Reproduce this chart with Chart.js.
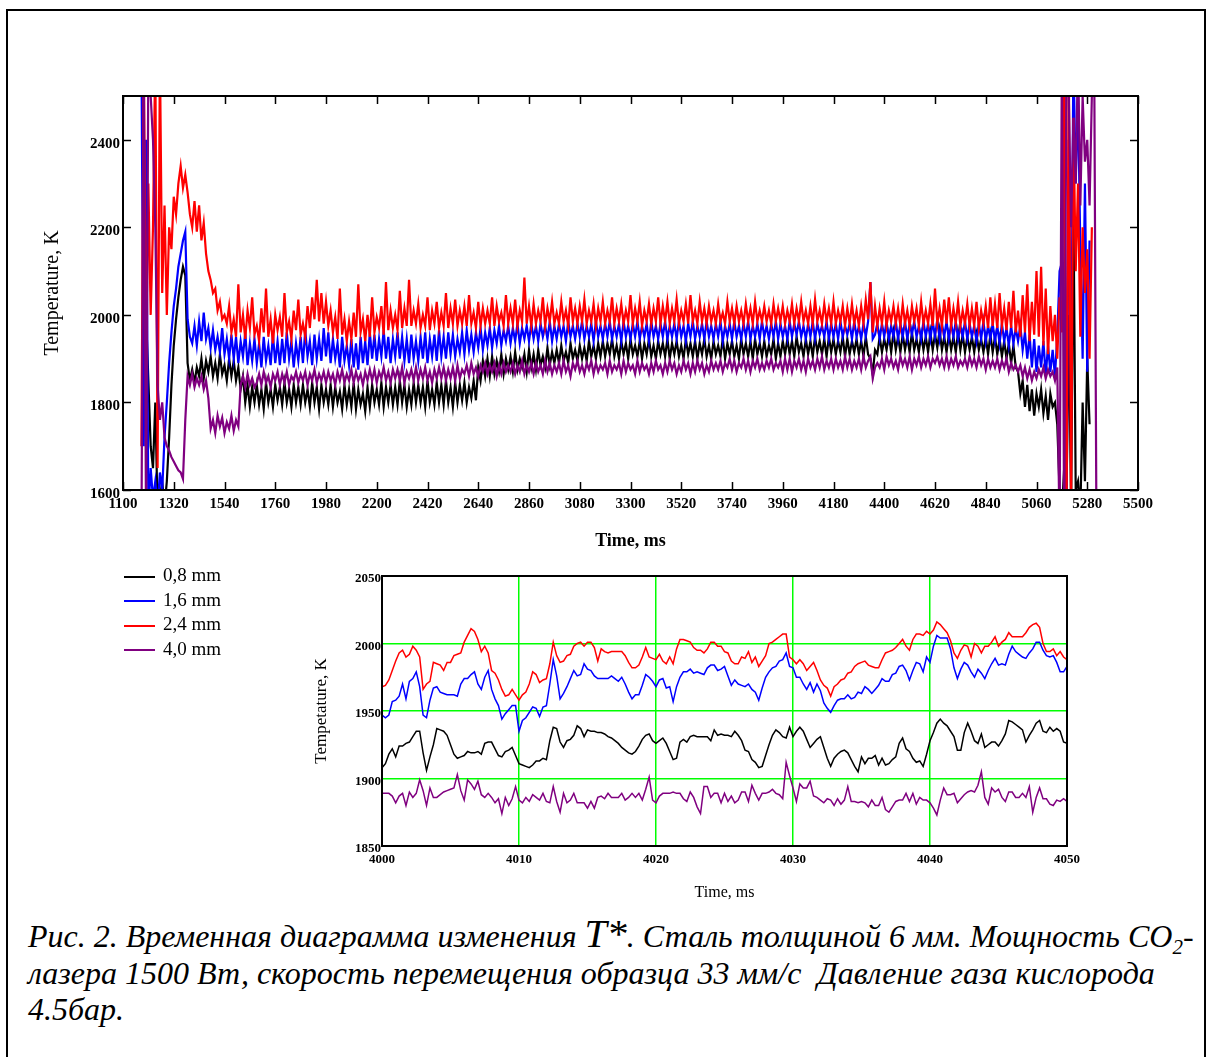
<!DOCTYPE html>
<html>
<head>
<meta charset="utf-8">
<script src="https://cdn.jsdelivr.net/npm/chart.js@4.4.1/dist/chart.umd.min.js"></script>
<style>
  body { margin: 0; background: #fff; width: 1210px; height: 1057px; overflow: hidden; position: relative; font-family: "Liberation Serif", "Times New Roman", serif; }
  #frame { position: absolute; left: 6px; top: 9px; width: 1196px; height: 1070px; border: 2px solid #000; }
  #mainChart { position: absolute; left: 0; top: 0; }
  #insetChart { position: absolute; left: 300px; top: 560px; }
  #legend { position: absolute; left: 124px; top: 563px; font-size: 19px; }
  #legend div { height: 24.5px; line-height: 24.5px; white-space: nowrap; }
  #legend span.sw { display: inline-block; width: 31px; height: 2px; vertical-align: middle; margin-right: 8px; }
  #caption { position: absolute; left: 28px; top: 918px; font-family: "Liberation Serif"; font-size: 32px; font-style: italic; line-height: 36.5px; white-space: nowrap; }
  #caption .big { font-size: 40px; line-height: 10px; }
  #caption sub { font-size: 21px; line-height: 10px; }
</style>
</head>
<body>
<div id="frame"></div>
<canvas id="mainChart" width="1210" height="580"></canvas>
<canvas id="insetChart" width="800" height="350"></canvas>
<div id="legend"></div>
<div id="caption">Рис. 2. Временная диаграмма изменения <span class="big">T*</span>. Сталь толщиной 6 мм. Мощность CO<sub>2</sub>-<br>лазера 1500 Вт, скорость перемещения образца 33 мм/с&nbsp; Давление газа кислорода<br>4.5бар.</div>
<script>
// series names and colours
const seriesNames = ['0,8 mm', '1,6 mm', '2,4 mm', '4,0 mm'];
const seriesColors = ['#000000', '#0000ff', '#ff0000', '#800080'];

// main chart: samples every 10 ms starting at 1180 ms
const mainStartMs = 1180;
const mainStepMs = 10;
const mainXTicks = [1100, 1320, 1540, 1760, 1980, 2200, 2420, 2640, 2860, 3080, 3300, 3520, 3740, 3960, 4180, 4400, 4620, 4840, 5060, 5280, 5500];
const mainYTicks = [1600, 1800, 2000, 2200, 2400];

const mainBlack = [
  2600, 2400, 2000, 1850, 1700, 1650, 1800, 1550, 1580, 1620,
  1560, 1620, 1720, 1840, 1930, 1990, 2040, 2080, 2110, 2090,
  1890, 1850, 1875, 1845, 1880, 1860, 1900, 1855, 1895, 1870,
  1905, 1860, 1890, 1855, 1910, 1865, 1885, 1850, 1900, 1860,
  1895, 1850, 1880, 1830, 1860, 1800, 1840, 1790, 1835, 1800,
  1840, 1795, 1830, 1785, 1845, 1800, 1830, 1790, 1840, 1805,
  1835, 1795, 1845, 1800, 1830, 1790, 1840, 1800, 1835, 1795,
  1840, 1800, 1830, 1790, 1845, 1800, 1835, 1785, 1840, 1800,
  1830, 1795, 1840, 1790, 1835, 1800, 1825, 1785, 1840, 1795,
  1830, 1790, 1845, 1785, 1830, 1795, 1820, 1780, 1835, 1790,
  1840, 1800, 1830, 1795, 1845, 1790, 1835, 1800, 1840, 1795,
  1835, 1795, 1850, 1800, 1840, 1790, 1830, 1795, 1845, 1800,
  1840, 1800, 1835, 1790, 1850, 1800, 1830, 1795, 1845, 1800,
  1840, 1795, 1850, 1800, 1835, 1790, 1845, 1800, 1840, 1805,
  1845, 1800, 1835, 1810, 1850, 1805, 1880, 1850, 1895, 1860,
  1900, 1860, 1905, 1865, 1895, 1870, 1910, 1865, 1900, 1875,
  1905, 1870, 1915, 1875, 1900, 1880, 1910, 1870, 1920, 1880,
  1910, 1875, 1920, 1885, 1905, 1880, 1925, 1885, 1915, 1890,
  1920, 1890, 1930, 1895, 1915, 1890, 1935, 1900, 1920, 1895,
  1930, 1900, 1925, 1895, 1940, 1905, 1930, 1900, 1935, 1905,
  1940, 1905, 1935, 1910, 1945, 1905, 1930, 1900, 1940, 1910,
  1935, 1900, 1945, 1910, 1930, 1905, 1940, 1900, 1935, 1910,
  1945, 1905, 1930, 1900, 1940, 1910, 1935, 1905, 1945, 1900,
  1935, 1910, 1940, 1905, 1930, 1900, 1945, 1910, 1935, 1905,
  1940, 1900, 1935, 1910, 1945, 1905, 1930, 1900, 1940, 1910,
  1930, 1905, 1945, 1900, 1935, 1910, 1940, 1905, 1930, 1900,
  1945, 1910, 1935, 1905, 1940, 1900, 1945, 1910, 1935, 1905,
  1940, 1905, 1930, 1910, 1945, 1900, 1935, 1905, 1940, 1910,
  1945, 1910, 1940, 1905, 1950, 1915, 1935, 1905, 1945, 1910,
  1940, 1905, 1950, 1915, 1940, 1910, 1945, 1905, 1950, 1915,
  1945, 1910, 1940, 1915, 1950, 1905, 1945, 1910, 1940, 1915,
  1945, 1910, 1940, 1905, 1950, 1910, 1900, 1865, 1920, 1910,
  1950, 1915, 1945, 1920, 1955, 1915, 1960, 1920, 1950, 1915,
  1955, 1920, 1950, 1915, 1960, 1920, 1945, 1915, 1955, 1920,
  1950, 1915, 1960, 1920, 1955, 1925, 1965, 1920, 1950, 1915,
  1955, 1920, 1950, 1915, 1960, 1920, 1955, 1915, 1950, 1920,
  1950, 1915, 1955, 1920, 1945, 1915, 1950, 1910, 1955, 1915,
  1950, 1910, 1945, 1905, 1940, 1900, 1935, 1890, 1930, 1880,
  1870, 1820, 1850, 1790, 1840, 1780, 1830, 1770, 1820, 1790,
  1830, 1775, 1815, 1760, 1820, 1790, 1800, 1750, 1600, 1550,
  1650, 1580, 2000, 1550, 2260, 1600, 1620, 1550, 1800, 1620,
  1900, 1750, null, null, null
];

const mainBlue = [
  2600, 1700, 2400, 1550, 1650, 1580, 1620, 1560, 1640, 1600,
  1720, 1800, 1890, 1960, 2020, 2060, 2110, 2140, 2170, 2190,
  1990, 1950, 1935, 1975, 1930, 1985, 1940, 2005, 1945, 1970,
  1925, 1965, 1920, 1950, 1915, 1970, 1910, 1945, 1900, 1955,
  1900, 1950, 1890, 1940, 1905, 1960, 1885, 1935, 1895, 1945,
  1890, 1935, 1880, 1950, 1895, 1930, 1885, 1955, 1890, 1940,
  1885, 1945, 1890, 1960, 1900, 1940, 1880, 1935, 1895, 1950,
  1890, 1965, 1905, 1940, 1885, 1955, 1900, 1945, 1895, 1970,
  1905, 1960, 1890, 1945, 1900, 1935, 1880, 1950, 1895, 1930,
  1885, 1945, 1880, 1935, 1875, 1950, 1890, 1940, 1885, 1960,
  1900, 1955, 1895, 1945, 1905, 1965, 1900, 1950, 1890, 1945,
  1905, 1960, 1900, 1950, 1895, 1945, 1890, 1955, 1900, 1940,
  1895, 1950, 1900, 1960, 1890, 1945, 1905, 1955, 1895, 1965,
  1905, 1950, 1900, 1960, 1910, 1955, 1905, 1945, 1915, 1960,
  1910, 1965, 1920, 1955, 1915, 1960, 1925, 1970, 1920, 1960,
  1930, 1970, 1925, 1965, 1935, 1975, 1930, 1965, 1940, 1975,
  1935, 1970, 1940, 1980, 1935, 1970, 1945, 1975, 1940, 1980,
  1945, 1975, 1940, 1980, 1950, 1975, 1945, 1985, 1940, 1975,
  1945, 1980, 1950, 1975, 1940, 1985, 1950, 1975, 1945, 1980,
  1950, 1985, 1945, 1975, 1950, 1980, 1940, 1985, 1950, 1975,
  1945, 1980, 1950, 1985, 1945, 1975, 1950, 1980, 1940, 1985,
  1950, 1975, 1945, 1980, 1950, 1985, 1945, 1975, 1950, 1980,
  1940, 1985, 1950, 1975, 1945, 1980, 1950, 1985, 1945, 1975,
  1950, 1980, 1945, 1985, 1950, 1975, 1940, 1980, 1950, 1985,
  1945, 1975, 1950, 1980, 1945, 1985, 1950, 1975, 1945, 1980,
  1950, 1985, 1940, 1975, 1950, 1980, 1945, 1985, 1950, 1975,
  1945, 1980, 1950, 1985, 1945, 1975, 1950, 1980, 1945, 1985,
  1950, 1975, 1945, 1980, 1950, 1985, 1945, 1980, 1950, 1975,
  1945, 1985, 1950, 1980, 1955, 1985, 1950, 1975, 1945, 1980,
  1950, 1985, 1945, 1980, 1955, 1975, 1950, 1985, 1945, 1980,
  1950, 1980, 1945, 1985, 1950, 1975, 1955, 1980, 1945, 1985,
  1950, 1975, 1945, 1980, 1950, 1985, 2075, 1945, 1955, 1980,
  1945, 1980, 1950, 1985, 1945, 1975, 1950, 1985, 1945, 1980,
  1950, 1985, 1945, 1980, 1955, 1985, 1950, 1975, 1945, 1985,
  1950, 1980, 1945, 1985, 1950, 1990, 1945, 1980, 1950, 1985,
  1945, 1980, 1950, 1985, 1945, 1975, 1950, 1985, 1945, 1980,
  1950, 1975, 1940, 1980, 1945, 1985, 1940, 1975, 1945, 1980,
  1940, 1975, 1935, 1980, 1940, 1970, 1930, 1975, 1935, 1970,
  1940, 1975, 1920, 1960, 1900, 1955, 1880, 1945, 1870, 1930,
  1880, 1940, 1860, 1930, 1870, 1920, 1860, 1950, 2100, 2120,
  2600, 1500, 2400, 1800, 2600, 2300, 2500, 2150, 1900, 2300,
  1870, 2170, null, null, null
];

const mainRed = [
  1700, 2600, 1900, 2300, 2000, 2200, 2600, 1650, 2600, 2050,
  2250, 2000, 2200, 2150, 2270, 2230, 2300, 2340, 2290, 2320,
  2280, 2230, 2200, 2260, 2190, 2250, 2170, 2210, 2140, 2100,
  2080, 2050, 2060, 2010, 2030, 1990, 2000, 1980, 2020, 1960,
  1990, 1950, 2070, 1960, 2000, 1945, 2010, 1970, 2040, 1955,
  1975, 1940, 2015, 1960, 2060, 1950, 1990, 1935, 2000, 1965,
  1995, 1950, 2050, 1960, 1985, 1945, 2010, 1965, 2035, 1955,
  1980, 1950, 2020, 1970, 2040, 1990, 2080, 1985, 2050, 1980,
  2030, 1975, 2010, 1960, 1995, 1945, 2060, 1955, 1990, 1940,
  1985, 1945, 2005, 1950, 2070, 1960, 1990, 1940, 2000, 1950,
  2040, 1960, 1995, 1970, 2020, 1955, 2075, 1965, 2010, 1970,
  2000, 1965, 2055, 1970, 2015, 1975, 2080, 1975, 2010, 1980,
  2025, 1970, 2000, 1975, 2040, 1965, 2010, 1980, 2030, 1970,
  2005, 1975, 2050, 1970, 2015, 1980, 2035, 1975, 2010, 1980,
  2020, 1975, 2045, 1980, 2005, 1970, 2030, 1975, 2015, 1980,
  2010, 1980, 2040, 1975, 2020, 1985, 2005, 1975, 2045, 1980,
  2015, 1980, 2035, 1975, 2010, 1985, 2085, 1980, 2020, 1975,
  2025, 1980, 2010, 1985, 2040, 1975, 2015, 1985, 2030, 1980,
  2005, 1980, 2030, 1985, 2010, 1975, 2040, 1985, 2015, 1980,
  2020, 1985, 2035, 1980, 2010, 1985, 2025, 1975, 2015, 1985,
  2030, 1980, 2010, 1985, 2040, 1980, 2015, 1985, 2025, 1980,
  2010, 1985, 2045, 1980, 2015, 1985, 2030, 1975, 2010, 1985,
  2025, 1980, 2015, 1985, 2040, 1980, 2020, 1985, 2030, 1980,
  2015, 1985, 2035, 1980, 2010, 1985, 2025, 1980, 2045, 1985,
  2010, 1980, 2030, 1985, 2015, 1980, 2020, 1985, 2010, 1980,
  2025, 1985, 2005, 1980, 2030, 1985, 2015, 1980, 2020, 1985,
  2010, 1980, 2025, 1985, 2015, 1980, 2030, 1985, 2010, 1985,
  2020, 1985, 2010, 1980, 2025, 1985, 2015, 1985, 2020, 1980,
  2010, 1985, 2025, 1980, 2015, 1985, 2030, 1985, 2010, 1980,
  2020, 1980, 2035, 1985, 2010, 1980, 2025, 1985, 2015, 1980,
  2030, 1980, 2010, 1985, 2020, 1975, 2015, 1980, 2025, 1980,
  2010, 1975, 2020, 1980, 2035, 1990, 2075, 1960, 2020, 1975,
  2015, 1980, 2030, 1975, 2010, 1985, 2020, 1980, 2015, 1975,
  2025, 1980, 2010, 1975, 2020, 1985, 2015, 1975, 2030, 1980,
  2010, 1980, 2025, 1975, 2060, 1980, 2015, 1975, 2035, 1980,
  2040, 1975, 2015, 1980, 2030, 1975, 2010, 1980, 2025, 1975,
  2015, 1975, 2030, 1970, 2010, 1980, 2020, 1970, 2040, 1975,
  2025, 1970, 2050, 1975, 2015, 1965, 2030, 1970, 2055, 1960,
  2010, 1950, 2045, 1960, 2070, 1940, 2030, 1955, 2100, 1950,
  2110, 1930, 2060, 1910, 2020, 1940, 2000, 1900, 2040, 1960,
  2600, 1500, 2600, 1550, 2450, 2100, 2300, 1950, 2200, 2050,
  2150, 1900, 2200, null, null
];

const mainPurple = [
  1500, 2600, 1500, 2600, 2500, 2400, 2200, 1840, 1760, 1800,
  1720, 1700, 1690, 1675, 1665, 1655, 1645, 1640, 1625, 1760,
  1860, 1840, 1865, 1835, 1855, 1840, 1860, 1830, 1850, 1810,
  1740, 1760, 1730, 1770, 1745, 1765, 1730, 1755, 1740, 1770,
  1735, 1760, 1745, 1840, 1860, 1835, 1865, 1840, 1855, 1835,
  1845, 1865, 1840, 1870, 1845, 1860, 1835, 1865, 1850, 1870,
  1840, 1865, 1845, 1870, 1840, 1860, 1850, 1870, 1845, 1865,
  1850, 1870, 1840, 1865, 1850, 1875, 1845, 1865, 1850, 1870,
  1845, 1870, 1850, 1865, 1840, 1870, 1850, 1875, 1845, 1865,
  1850, 1875, 1845, 1870, 1850, 1865, 1840, 1870, 1850, 1875,
  1850, 1875, 1845, 1870, 1855, 1880, 1850, 1870, 1845, 1875,
  1855, 1875, 1850, 1880, 1845, 1870, 1855, 1875, 1850, 1880,
  1850, 1875, 1855, 1880, 1850, 1870, 1845, 1875, 1855, 1880,
  1855, 1880, 1850, 1875, 1855, 1880, 1850, 1885, 1855, 1875,
  1865, 1885, 1860, 1890, 1865, 1880, 1860, 1885, 1870, 1890,
  1865, 1885, 1870, 1890, 1860, 1885, 1865, 1890, 1870, 1885,
  1870, 1890, 1865, 1885, 1870, 1895, 1865, 1885, 1870, 1890,
  1865, 1890, 1870, 1885, 1865, 1895, 1870, 1890, 1865, 1885,
  1870, 1890, 1865, 1895, 1870, 1885, 1860, 1890, 1875, 1895,
  1870, 1885, 1865, 1890, 1875, 1895, 1865, 1890, 1870, 1885,
  1875, 1890, 1865, 1895, 1870, 1885, 1875, 1890, 1865, 1895,
  1870, 1890, 1875, 1885, 1865, 1895, 1870, 1890, 1875, 1885,
  1865, 1890, 1870, 1895, 1875, 1885, 1865, 1890, 1870, 1895,
  1875, 1890, 1865, 1885, 1870, 1895, 1875, 1890, 1865, 1890,
  1870, 1895, 1875, 1890, 1865, 1885, 1870, 1895, 1875, 1890,
  1875, 1895, 1870, 1890, 1880, 1900, 1875, 1895, 1870, 1890,
  1880, 1900, 1875, 1895, 1870, 1895, 1880, 1900, 1875, 1890,
  1875, 1895, 1880, 1900, 1875, 1890, 1880, 1895, 1870, 1900,
  1875, 1900, 1870, 1895, 1880, 1900, 1875, 1895, 1870, 1900,
  1880, 1895, 1875, 1900, 1880, 1905, 1875, 1895, 1880, 1900,
  1875, 1900, 1880, 1895, 1875, 1905, 1880, 1900, 1875, 1895,
  1880, 1900, 1875, 1905, 1880, 1895, 1905, 1855, 1880, 1890,
  1880, 1900, 1875, 1905, 1885, 1900, 1880, 1895, 1875, 1905,
  1885, 1900, 1880, 1905, 1875, 1900, 1885, 1905, 1880, 1900,
  1885, 1905, 1880, 1900, 1890, 1905, 1885, 1900, 1880, 1905,
  1880, 1900, 1885, 1905, 1880, 1895, 1885, 1900, 1880, 1905,
  1885, 1900, 1880, 1905, 1885, 1900, 1875, 1900, 1880, 1895,
  1880, 1900, 1875, 1895, 1880, 1900, 1870, 1890, 1875, 1885,
  1870, 1885, 1860, 1880, 1855, 1875, 1850, 1870, 1855, 1875,
  1860, 1880, 1855, 1875, 1860, 1870, 1850, 1880, 1500, 2600,
  1500, 2600, 2500, 2200, 2450, 2300, 2600, 2250, 2500, 2350,
  2400, 2250, 2500, 2600, 1500
];

// inset: 4000..4050 ms, samples every 0.25 ms
const insetStartMs = 4000;
const insetStepMs = 0.25;
const insetXTicks = [4000, 4010, 4020, 4030, 4040, 4050];
const insetYTicks = [1850, 1900, 1950, 2000, 2050];

const insetBlack = [
  1908, 1911, 1918, 1922, 1916, 1924, 1924, 1926, 1927, 1931,
  1935, 1935, 1919, 1906, 1916, 1925, 1937, 1936, 1935, 1932,
  1925, 1918, 1915, 1916, 1917, 1920, 1919, 1919, 1920, 1918,
  1926, 1927, 1927, 1922, 1917, 1916, 1920, 1921, 1923, 1917,
  1911, 1910, 1909, 1908, 1910, 1913, 1913, 1915, 1914, 1928,
  1938, 1937, 1927, 1923, 1928, 1929, 1932, 1939, 1937, 1931,
  1936, 1935, 1935, 1934, 1934, 1933, 1931, 1930, 1928, 1926,
  1923, 1921, 1919, 1918, 1920, 1924, 1929, 1932, 1933, 1928,
  1926, 1928, 1930, 1926, 1920, 1914, 1915, 1927, 1929, 1927,
  1931, 1932, 1931, 1931, 1931, 1931, 1928, 1936, 1932, 1933,
  1932, 1932, 1931, 1935, 1932, 1928, 1921, 1920, 1914, 1912,
  1908, 1909, 1917, 1925, 1932, 1936, 1934, 1931, 1930, 1938,
  1931, 1935, 1938, 1935, 1929, 1923, 1926, 1929, 1931, 1923,
  1915, 1909, 1915, 1918, 1920, 1921, 1919, 1914, 1909, 1905,
  1916, 1911, 1915, 1915, 1917, 1910, 1915, 1910, 1911, 1914,
  1916, 1926, 1930, 1922, 1920, 1915, 1912, 1913, 1909, 1918,
  1928, 1934, 1941, 1944, 1941, 1939, 1935, 1931, 1921, 1921,
  1934, 1941, 1935, 1928, 1926, 1933, 1923, 1925, 1927, 1927,
  1924, 1928, 1933, 1943, 1942, 1940, 1938, 1936, 1927, 1932,
  1936, 1941, 1943, 1935, 1934, 1938, 1935, 1937, 1935, 1927,
  1926
];

const insetBlue = [
  1947, 1945, 1947, 1957, 1958, 1961, 1970, 1959, 1972, 1974,
  1979, 1968, 1947, 1945, 1958, 1967, 1968, 1964, 1963, 1962,
  1962, 1962, 1961, 1970, 1974, 1974, 1977, 1979, 1970, 1966,
  1975, 1980, 1966, 1959, 1954, 1944, 1948, 1951, 1954, 1954,
  1935, 1943, 1945, 1949, 1953, 1952, 1946, 1953, 1954, 1970,
  1988, 1976, 1959, 1963, 1968, 1974, 1980, 1976, 1977, 1985,
  1981, 1980, 1976, 1974, 1974, 1974, 1974, 1976, 1974, 1972,
  1975, 1970, 1964, 1959, 1962, 1962, 1969, 1977, 1975, 1972,
  1968, 1973, 1974, 1967, 1968, 1957, 1968, 1975, 1979, 1979,
  1981, 1978, 1979, 1978, 1977, 1982, 1984, 1984, 1980, 1981,
  1983, 1976, 1969, 1973, 1970, 1969, 1968, 1970, 1966, 1964,
  1958, 1967, 1975, 1979, 1982, 1983, 1987, 1988, 1993, 1983,
  1982, 1975, 1975, 1970, 1966, 1971, 1964, 1970, 1965, 1956,
  1952, 1949, 1954, 1958, 1959, 1959, 1962, 1959, 1960, 1964,
  1963, 1968, 1966, 1963, 1966, 1969, 1974, 1972, 1972, 1977,
  1978, 1983, 1984, 1980, 1973, 1980, 1986, 1985, 1979, 1990,
  1986, 1998, 2006, 2004, 2004, 2004, 1996, 1982, 1974, 1981,
  1986, 1984, 1979, 1975, 1981, 1978, 1974, 1980, 1985, 1989,
  1984, 1985, 1984, 1992, 1998, 1994, 1992, 1990, 1989, 1993,
  1996, 2001, 2001, 1995, 1991, 1990, 1991, 1986, 1979, 1979,
  1983
];

const insetRed = [
  1968, 1969, 1973, 1980, 1987, 1993, 1995, 1990, 1992, 1998,
  1995, 1990, 1966, 1970, 1972, 1986, 1985, 1984, 1980, 1986,
  1986, 1991, 1992, 1993, 2001, 2006, 2011, 2009, 2003, 1994,
  1998, 1993, 1980, 1978, 1973, 1966, 1961, 1962, 1966, 1962,
  1958, 1962, 1964, 1970, 1979, 1977, 1971, 1973, 1974, 1985,
  2001, 1991, 1986, 1987, 1991, 1992, 1998, 2000, 2001, 1998,
  2001, 2001, 1997, 1987, 1996, 1994, 1993, 1994, 1994, 1994,
  1994, 1991, 1986, 1982, 1982, 1984, 1990, 1997, 1990, 1989,
  1988, 1992, 1987, 1985, 1990, 1985, 1996, 2003, 2003, 2002,
  2001, 1997, 1995, 1995, 1993, 1996, 2001, 2001, 1998, 1998,
  1994, 1993, 1987, 1985, 1985, 1990, 1989, 1994, 1986, 1990,
  1983, 1987, 1991, 2000, 2001, 2003, 2005, 2007, 2007, 1990,
  1988, 1985, 1988, 1985, 1980, 1983, 1986, 1980, 1973, 1969,
  1967, 1961, 1968, 1970, 1973, 1974, 1978, 1979, 1983, 1985,
  1986, 1987, 1984, 1983, 1982, 1982, 1988, 1993, 1994, 1995,
  1997, 2000, 2003, 1998, 1995, 2003, 2007, 2007, 2006, 2009,
  2007, 2010, 2016, 2014, 2011, 2008, 2002, 1993, 1989, 1995,
  1999, 1998, 1990, 2000, 1998, 1993, 1998, 1998, 2001, 2005,
  1998, 2001, 2003, 2008, 2005, 2005, 2005, 2005, 2008, 2012,
  2014, 2015, 2012, 2000, 1994, 1994, 1996, 1991, 1994, 1990,
  1988
];

const insetPurple = [
  1889, 1889, 1889, 1887, 1882, 1887, 1889, 1880, 1890, 1886,
  1889, 1899, 1891, 1880, 1893, 1886, 1886, 1888, 1890, 1891,
  1892, 1893, 1903, 1891, 1884, 1899, 1896, 1892, 1898, 1888,
  1886, 1889, 1886, 1882, 1885, 1874, 1886, 1880, 1885, 1894,
  1884, 1882, 1886, 1883, 1888, 1886, 1884, 1889, 1883, 1882,
  1894, 1883, 1875, 1889, 1882, 1884, 1889, 1882, 1882, 1882,
  1878, 1883, 1878, 1886, 1887, 1885, 1889, 1886, 1886, 1886,
  1889, 1884, 1886, 1889, 1886, 1889, 1884, 1892, 1901, 1884,
  1882, 1887, 1889, 1889, 1889, 1890, 1889, 1889, 1885, 1883,
  1890, 1886, 1879, 1874, 1894, 1894, 1886, 1889, 1889, 1882,
  1889, 1883, 1887, 1882, 1884, 1890, 1890, 1883, 1895, 1889,
  1884, 1889, 1889, 1890, 1892, 1889, 1888, 1885, 1912, 1902,
  1893, 1883, 1896, 1893, 1893, 1898, 1887, 1886, 1884, 1882,
  1885, 1884, 1880, 1885, 1881, 1884, 1894, 1883, 1883, 1882,
  1883, 1882, 1879, 1884, 1880, 1880, 1886, 1877, 1875, 1879,
  1883, 1884, 1884, 1889, 1883, 1889, 1881, 1886, 1884, 1884,
  1882, 1878, 1873, 1884, 1893, 1888, 1888, 1889, 1882, 1885,
  1888, 1890, 1891, 1890, 1895, 1905, 1886, 1881, 1893, 1890,
  1892, 1886, 1883, 1890, 1890, 1886, 1886, 1889, 1886, 1894,
  1875, 1886, 1893, 1885, 1885, 1881, 1880, 1884, 1883, 1885,
  1883
];

const toPoints = (start, step, values) => values.map((v, i) => ({ x: start + i * step, y: v }));

// frame, inward ticks and axis titles drawn over the plot area
const framePlugin = {
  id: 'framePlugin',
  afterDatasetsDraw(chart, args, opts) {
    const { ctx, chartArea: a, scales } = chart;
    ctx.save();
    ctx.strokeStyle = '#000';
    if (opts.tickLen) {
      ctx.lineWidth = 1.5;
      ctx.beginPath();
      scales.x.ticks.forEach((t) => {
        const px = Math.round(scales.x.getPixelForValue(t.value)) + 0.5;
        ctx.moveTo(px, a.bottom); ctx.lineTo(px, a.bottom - opts.tickLen);
        ctx.moveTo(px, a.top); ctx.lineTo(px, a.top + opts.tickLen);
      });
      scales.y.ticks.forEach((t) => {
        const py = Math.round(scales.y.getPixelForValue(t.value)) + 0.5;
        ctx.moveTo(a.left, py); ctx.lineTo(a.left + opts.tickLen, py);
        ctx.moveTo(a.right, py); ctx.lineTo(a.right - opts.tickLen, py);
      });
      ctx.stroke();
    }
    ctx.lineWidth = 2;
    ctx.strokeRect(a.left, a.top, a.right - a.left, a.bottom - a.top);

    ctx.fillStyle = '#000';
    ctx.textAlign = 'center';
    ctx.textBaseline = 'middle';
    ctx.font = opts.xTitleFont;
    ctx.fillText(opts.xTitle, (a.left + a.right) / 2, a.bottom + opts.xTitleGap);
    ctx.translate(a.left - opts.yTitleGap, (a.top + a.bottom) / 2);
    ctx.rotate(-Math.PI / 2);
    ctx.font = opts.yTitleFont;
    ctx.fillText(opts.yTitle, 0, 0);
    ctx.restore();
  }
};

const makeDatasets = (start, step, lists, width) => lists.map((vals, i) => ({
  label: seriesNames[i],
  data: toPoints(start, step, vals),
  borderColor: seriesColors[i],
  borderWidth: width,
  pointRadius: 0,
  tension: 0,
  order: lists.length - i
}));

const tickFont = (size) => ({ family: '"Liberation Serif"', size: size, weight: 'bold' });

new Chart(document.getElementById('mainChart'), {
  type: 'line',
  data: { datasets: makeDatasets(mainStartMs, mainStepMs, [mainBlack, mainBlue, mainRed, mainPurple], 2.2) },
  options: {
    responsive: false,
    animation: false,
    layout: { padding: { left: 0, top: 96, right: 72, bottom: 0 } },
    plugins: {
      legend: { display: false },
      tooltip: { enabled: false },
      framePlugin: {
        tickLen: 8,
        xTitle: 'Time, ms', xTitleFont: 'bold 18px "Liberation Serif"', xTitleGap: 51,
        yTitle: 'Temperature, K', yTitleFont: '20px "Liberation Serif"', yTitleGap: 70
      }
    },
    scales: {
      x: {
        type: 'linear', min: 1100, max: 5500,
        afterBuildTicks: (s) => { s.ticks = mainXTicks.map((v) => ({ value: v })); },
        afterFit: (s) => { s.height = 90; },
        grid: { display: false, drawTicks: false },
        border: { display: false },
        ticks: { autoSkip: false, maxRotation: 0, padding: 5, color: '#000', font: tickFont(15), callback: (v) => String(v) }
      },
      y: {
        type: 'linear', min: 1600, max: 2500,
        afterBuildTicks: (s) => { s.ticks = mainYTicks.map((v) => ({ value: v })); },
        afterFit: (s) => { s.width = 123; },
        grid: { display: false, drawTicks: false },
        border: { display: false },
        ticks: { autoSkip: false, padding: 3, labelOffset: 4, color: '#000', font: tickFont(15), callback: (v) => String(v) }
      }
    }
  },
  plugins: [framePlugin]
});

new Chart(document.getElementById('insetChart'), {
  type: 'line',
  data: { datasets: makeDatasets(insetStartMs, insetStepMs, [insetBlack, insetBlue, insetRed, insetPurple], 1.5) },
  options: {
    responsive: false,
    animation: false,
    layout: { padding: { left: 0, top: 16, right: 33, bottom: 0 } },
    plugins: {
      legend: { display: false },
      tooltip: { enabled: false },
      framePlugin: {
        tickLen: 0,
        xTitle: 'Time, ms', xTitleFont: '16px "Liberation Serif"', xTitleGap: 47,
        yTitle: 'Tempetature, K', yTitleFont: '17px "Liberation Serif"', yTitleGap: 60
      }
    },
    scales: {
      x: {
        type: 'linear', min: 4000, max: 4050,
        afterBuildTicks: (s) => { s.ticks = insetXTicks.map((v) => ({ value: v })); },
        afterFit: (s) => { s.height = 64; },
        grid: { color: '#00ff00', lineWidth: 1.5, drawTicks: false },
        border: { display: false },
        ticks: { autoSkip: false, maxRotation: 0, padding: 6, color: '#000', font: tickFont(13), callback: (v) => String(v) }
      },
      y: {
        type: 'linear', min: 1850, max: 2050,
        afterBuildTicks: (s) => { s.ticks = insetYTicks.map((v) => ({ value: v })); },
        afterFit: (s) => { s.width = 82; },
        grid: { color: '#00ff00', lineWidth: 1.5, drawTicks: false },
        border: { display: false },
        ticks: { autoSkip: false, padding: 1, labelOffset: 3, color: '#000', font: tickFont(13), callback: (v) => String(v) }
      }
    }
  },
  plugins: [framePlugin]
});

// legend sits between the two charts
const legendBox = document.getElementById('legend');
seriesNames.forEach((name, i) => {
  const row = document.createElement('div');
  row.innerHTML = '<span class="sw" style="background:' + seriesColors[i] + '"></span>' + name;
  legendBox.appendChild(row);
});
</script>
</body>
</html>
